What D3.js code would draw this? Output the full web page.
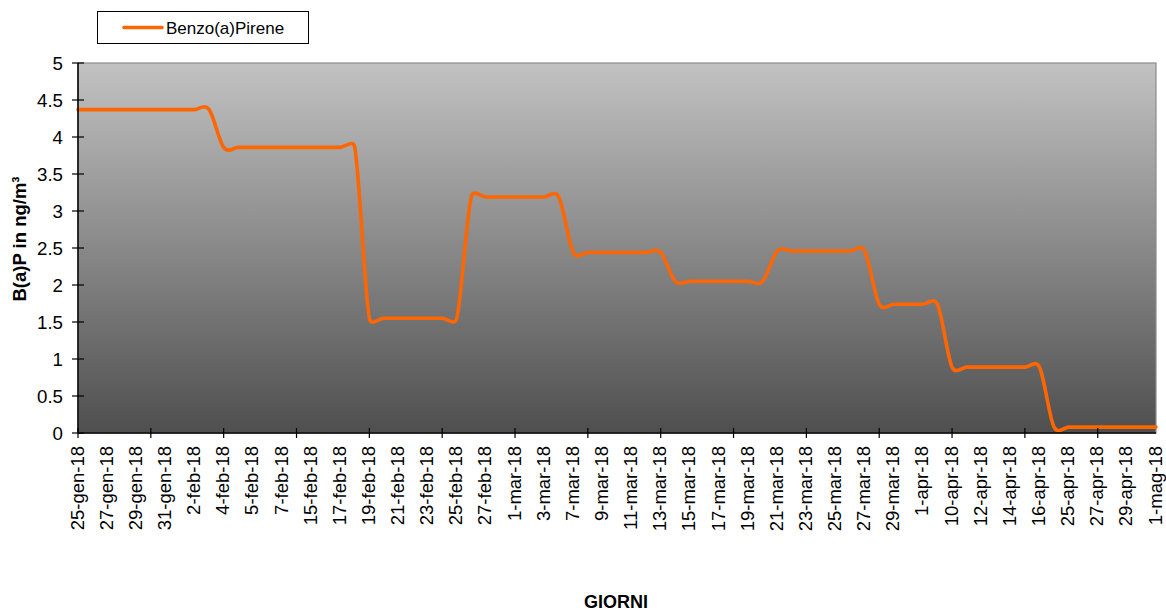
<!DOCTYPE html>
<html>
<head>
<meta charset="utf-8">
<script src="https://cdn.jsdelivr.net/npm/d3@7"></script>
<style>
  html, body { margin: 0; padding: 0; background: #ffffff; }
  svg { display: block; font-family: "Liberation Sans", Arial, sans-serif; }
</style>
</head>
<body>
<svg id="chart" width="1166" height="610"></svg>
<script>
// Daily B(a)P concentrations (ng/m3), one entry per sampling day
const values = [
  4.37, 4.37, 4.37, 4.37, 4.37, 4.37, 4.37, 4.37, 4.37, 4.37,
  3.86, 3.86, 3.86, 3.86, 3.86, 3.86, 3.86, 3.86, 3.86, 3.86,
  1.55, 1.55, 1.55, 1.55, 1.55, 1.55, 1.55,
  3.19, 3.19, 3.19, 3.19, 3.19, 3.19, 3.19,
  2.44, 2.44, 2.44, 2.44, 2.44, 2.44, 2.44,
  2.05, 2.05, 2.05, 2.05, 2.05, 2.05, 2.05,
  2.46, 2.46, 2.46, 2.46, 2.46, 2.46, 2.46,
  1.74, 1.74, 1.74, 1.74, 1.74,
  0.89, 0.89, 0.89, 0.89, 0.89, 0.89, 0.89,
  0.08, 0.08, 0.08, 0.08, 0.08, 0.08, 0.08, 0.08
];

// Labels printed on every second day of the category axis
const dayLabels = [
  "25-gen-18", "27-gen-18", "29-gen-18", "31-gen-18", "2-feb-18", "4-feb-18",
  "5-feb-18", "7-feb-18", "15-feb-18", "17-feb-18", "19-feb-18", "21-feb-18",
  "23-feb-18", "25-feb-18", "27-feb-18", "1-mar-18", "3-mar-18", "7-mar-18",
  "9-mar-18", "11-mar-18", "13-mar-18", "15-mar-18", "17-mar-18", "19-mar-18",
  "21-mar-18", "23-mar-18", "25-mar-18", "27-mar-18", "29-mar-18", "1-apr-18",
  "10-apr-18", "12-apr-18", "14-apr-18", "16-apr-18", "25-apr-18", "27-apr-18",
  "29-apr-18", "1-mag-18"
];

const yTicks = [0, 0.5, 1, 1.5, 2, 2.5, 3, 3.5, 4, 4.5, 5];
const seriesName = "Benzo(a)Pirene";
const yTitle = "B(a)P in ng/m³";
const xTitle = "GIORNI";

const svg = d3.select("#chart");
const plot = { left: 78, right: 1156, top: 63, bottom: 433 };

const idx = d3.range(values.length);
const x = d3.scalePoint().domain(idx).range([plot.left, plot.right]);
const y = d3.scaleLinear().domain([0, 5]).range([plot.bottom, plot.top]);

// Plot background: vertical grey gradient
const defs = svg.append("defs");
const grad = defs.append("linearGradient")
  .attr("id", "bg").attr("x1", 0).attr("y1", 0).attr("x2", 0).attr("y2", 1);
grad.append("stop").attr("offset", "0%").attr("stop-color", "#c2c2c2");
grad.append("stop").attr("offset", "100%").attr("stop-color", "#4f4f4f");

svg.append("rect")
  .attr("x", plot.left).attr("y", plot.top)
  .attr("width", plot.right - plot.left).attr("height", plot.bottom - plot.top)
  .attr("fill", "url(#bg)")
  .attr("stroke", "#8a8a8a").attr("stroke-width", 1.2);

// Smoothed line: Catmull-Rom style tangents, with control arms limited
// relative to each segment length to keep overshoot small on big jumps
function smoothPath(pts, k) {
  const n = pts.length;
  const tan = pts.map((q, i) => {
    const a = pts[Math.max(i - 1, 0)], b = pts[Math.min(i + 1, n - 1)];
    return [(b[0] - a[0]) / 6, (b[1] - a[1]) / 6];
  });
  const clamp = (v, lim) => {
    const l = Math.hypot(v[0], v[1]);
    return l > lim ? [v[0] * lim / l, v[1] * lim / l] : v;
  };
  const p = d3.path();
  p.moveTo(pts[0][0], pts[0][1]);
  for (let i = 0; i < n - 1; i++) {
    const a = pts[i], b = pts[i + 1];
    const lim = Math.hypot(b[0] - a[0], b[1] - a[1]) * k;
    const c1 = clamp(tan[i], lim), c2 = clamp(tan[i + 1], lim);
    p.bezierCurveTo(a[0] + c1[0], a[1] + c1[1], b[0] - c2[0], b[1] - c2[1], b[0], b[1]);
  }
  return p.toString();
}

const pts = values.map((v, i) => [x(i), y(v)]);
svg.append("path")
  .attr("d", smoothPath(pts, 0.6))
  .attr("fill", "none")
  .attr("stroke", "#ff6600")
  .attr("stroke-width", 3.6)
  .attr("stroke-linejoin", "round")
  .attr("stroke-linecap", "round");

// Y axis with cross tick marks
const yAxis = svg.append("g");
yAxis.append("line")
  .attr("x1", plot.left).attr("x2", plot.left)
  .attr("y1", plot.top).attr("y2", plot.bottom)
  .attr("stroke", "#000").attr("stroke-width", 1.5);
yAxis.selectAll("line.tk").data(yTicks).join("line")
  .attr("class", "tk")
  .attr("x1", plot.left - 6).attr("x2", plot.left + 6)
  .attr("y1", d => y(d)).attr("y2", d => y(d))
  .attr("stroke", "#000").attr("stroke-width", 1.2);
yAxis.selectAll("text").data(yTicks).join("text")
  .attr("x", plot.left - 15).attr("y", d => y(d))
  .attr("dy", "0.35em")
  .attr("text-anchor", "end")
  .attr("font-size", 18.7)
  .attr("fill", "#000")
  .text(d => d3.format("")(d));

// X axis: tick marks every fifth day, labels every second day
const xAxis = svg.append("g");
xAxis.append("line")
  .attr("x1", plot.left).attr("x2", plot.right)
  .attr("y1", plot.bottom).attr("y2", plot.bottom)
  .attr("stroke", "#000").attr("stroke-width", 1.5);
xAxis.selectAll("line.tk").data(idx.filter(i => i % 5 === 0)).join("line")
  .attr("class", "tk")
  .attr("x1", d => x(d)).attr("x2", d => x(d))
  .attr("y1", plot.bottom - 5).attr("y2", plot.bottom + 5)
  .attr("stroke", "#000").attr("stroke-width", 1.2);
xAxis.selectAll("text").data(dayLabels).join("text")
  .attr("transform", (d, i) => `translate(${x(i * 2)},${plot.bottom + 13}) rotate(-90)`)
  .attr("dy", "0.3em")
  .attr("text-anchor", "end")
  .attr("font-size", 18.5)
  .attr("fill", "#000")
  .text(d => d);

// Axis titles
svg.append("text")
  .attr("transform", `translate(26,239) rotate(-90)`)
  .attr("text-anchor", "middle")
  .attr("font-size", 18.5)
  .attr("font-weight", "bold")
  .text(yTitle);

svg.append("text")
  .attr("x", 616).attr("y", 607.5)
  .attr("text-anchor", "middle")
  .attr("font-size", 18)
  .attr("font-weight", "bold")
  .text(xTitle);

// Legend
const lg = svg.append("g");
lg.append("rect")
  .attr("x", 97.5).attr("y", 11.5).attr("width", 211).attr("height", 32)
  .attr("fill", "#fff").attr("stroke", "#000").attr("stroke-width", 1);
lg.append("line")
  .attr("x1", 124).attr("x2", 162).attr("y1", 27.5).attr("y2", 27.5)
  .attr("stroke", "#ff6600").attr("stroke-width", 3.6).attr("stroke-linecap", "round");
lg.append("text")
  .attr("x", 166).attr("y", 34)
  .attr("font-size", 17)
  .text(seriesName);
</script>
</body>
</html>
